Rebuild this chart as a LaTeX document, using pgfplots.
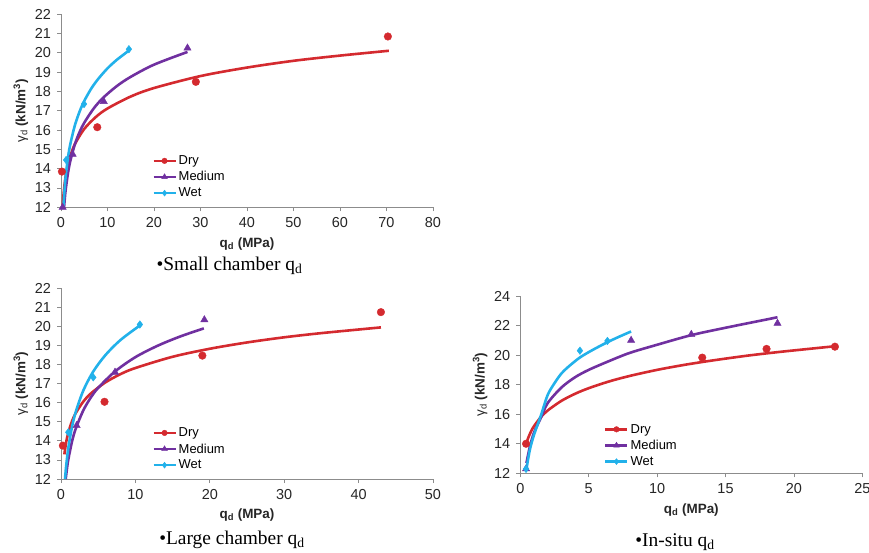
\documentclass[border=0pt]{standalone}
\usepackage{fontspec}
\setmainfont{Liberation Sans}
\newfontfamily\serif{Liberation Serif}
\usepackage{pgfplots}
\pgfplotsset{compat=1.18}

\definecolor{dry}{HTML}{D42A2F}
\definecolor{med}{HTML}{7030A0}
\definecolor{wet}{HTML}{22B1EA}
\definecolor{axgray}{HTML}{8C8C8C}

\pgfplotsset{
  excel/.style={
    scale only axis,
    axis lines=left,
    axis line style={-, draw=axgray, line width=0.8bp},
    tick align=outside,
    major tick length=4bp,
    tick style={draw=axgray, line width=0.8bp},
    tick label style={font=\fontsize{14.5}{16}\selectfont, text=black!85},
    xticklabel style={yshift=-2.5bp},
    yticklabel style={xshift=-2.5bp},
    /pgf/number format/assume math mode=true,
    label style={font=\fontsize{13.5}{15}\selectfont\bfseries, text=black!85},
    xlabel style={yshift=-3bp},
    xlabel={q\textsubscript{d} (MPa)},
    ylabel={{\mdseries γ\textsubscript{d}} (kN/m\textsuperscript{3})},
    clip=false,
    legend cell align=left,
    legend style={draw=none, fill=none, anchor=west, inner sep=0pt,
      font=\fontsize{13}{14}\selectfont, row sep=1.5bp,
      at={(0.245,0.157)}},
    legend image code/.code={\draw[##1, mark repeat=2, mark phase=2] plot coordinates {(0bp,0bp) (11bp,0bp) (22bp,0bp)};},
  },
  curve/.style={smooth, line width=2.6bp, no markers, forget plot},
  pts/.style={only marks, forget plot},
  drymk/.style={mark=*, mark size=3.8bp, mark options={draw=dry, fill=dry}},
  medmk/.style={mark=triangle*, mark size=4.2bp, mark options={draw=med, fill=med}},
  wetmk/.style={mark=diamond*, mark size=3.8bp, mark options={draw=wet, fill=wet}},
  drylg/.style={draw=dry, line width=2.4bp, mark=*, mark size=2.8bp, mark options={solid, line width=0.4bp, draw=dry, fill=dry}},
  medlg/.style={draw=med, line width=2.4bp, mark=triangle*, mark size=3.3bp, mark options={solid, line width=0.4bp, draw=med, fill=med}},
  wetlg/.style={draw=wet, line width=2.4bp, mark=diamond*, mark size=3bp, mark options={solid, line width=0.4bp, draw=wet, fill=wet}},
}

\begin{document}
\begin{tikzpicture}
\path[use as bounding box] (0,0) rectangle (869bp,553bp);

% small chamber
\begin{axis}[excel, at={(61bp,345.7bp)}, anchor=south west,
  width=372bp, height=193bp,
  xmin=0, xmax=80, ymin=12, ymax=22,
  xtick={0,10,...,80}, ytick={12,13,...,22}]
\addplot[curve, dry] coordinates {(0.35,12.0) (0.5,12.54) (0.75,13.16) (1,13.6) (1.5,14.22) (2,14.66) (3,15.28) (5,16.06) (7.5,16.68) (10,17.12) (15,17.74) (20,18.18) (30,18.8) (40,19.24) (50,19.59) (60,19.86) (70.5,20.11)};
\addplot[pts, drymk] coordinates {(0.2,13.85) (7.8,16.15) (29,18.5) (70.3,20.85)};
\addplot[curve, med] coordinates {(0.66,12.0) (0.8,12.41) (1,12.9) (1.5,13.77) (2,14.4) (3,15.28) (4,15.9) (5,16.38) (7,17.11) (9,17.66) (12,18.28) (15,18.76) (20,19.39) (27.2,20.05)};
\addplot[pts, medmk] coordinates {(0.36,12.0) (2.5,14.75) (9.2,17.48) (27.2,20.25)};
\addplot[curve, wet] coordinates {(0.52,12.0) (0.7,12.71) (1,13.58) (1.5,14.57) (2,15.27) (3,16.26) (4,16.96) (5,17.51) (6.5,18.15) (8,18.65) (10,19.2) (12,19.64) (14.6,20.12)};
\addplot[pts, wetmk] coordinates {(1.1,14.45) (4.95,17.35) (14.6,20.19)};
\addlegendimage{drylg}\addlegendentry{Dry}
\addlegendimage{medlg}\addlegendentry{Medium}
\addlegendimage{wetlg}\addlegendentry{Wet}
\end{axis}

% large chamber
\begin{axis}[excel, at={(61bp,74bp)}, anchor=south west,
  width=372bp, height=190.7bp,
  xmin=0, xmax=50, ymin=12, ymax=22,
  xtick={0,10,...,50}, ytick={12,13,...,22}]
\addplot[curve, dry] coordinates {(0.45,13.29) (0.7,13.94) (1,14.46) (1.5,15.05) (2,15.47) (3,16.06) (4,16.48) (5.9,17.05) (8,17.5) (10,17.82) (15,18.41) (20,18.83) (25,19.16) (30,19.43) (35,19.65) (43,19.95)};
\addplot[pts, drymk] coordinates {(0.25,13.75) (5.85,16.05) (19,18.47) (43,20.75)};
\addplot[curve, med] coordinates {(0.63,12.0) (0.8,12.54) (1,13.06) (1.5,14.0) (2,14.66) (3,15.6) (4,16.27) (5,16.78) (7.26,17.64) (10,18.39) (13,18.99) (16,19.47) (19.2,19.9)};
\addplot[pts, medmk] coordinates {(2.1,14.8) (7.26,17.6) (19.27,20.35)};
\addplot[curve, wet] coordinates {(0.54,12.0) (0.7,12.71) (1,13.67) (1.5,14.77) (2,15.54) (3,16.64) (4.34,17.64) (6,18.51) (8,19.29) (10.6,20.05)};
\addplot[pts, wetmk] coordinates {(0.98,14.45) (4.34,17.33) (10.6,20.1)};
\addlegendimage{drylg}\addlegendentry{Dry}
\addlegendimage{medlg}\addlegendentry{Medium}
\addlegendimage{wetlg}\addlegendentry{Wet}
\end{axis}

% in situ
\begin{axis}[excel, at={(520.3bp,79.7bp)}, anchor=south west,
  width=342bp, height=177.3bp,
  xmin=0, xmax=25, ymin=12, ymax=24,
  xtick={0,5,...,25}, ytick={12,14,...,24}]
\addplot[curve, dry] coordinates {(0.42,13.96) (0.6,14.45) (0.8,14.86) (1,15.19) (1.5,15.8) (2,16.25) (3,16.9) (4,17.38) (5,17.76) (6.5,18.22) (8,18.59) (10,19.0) (12,19.34) (14,19.63) (16.5,19.95) (19,20.22) (23,20.6)};
\addplot[pts, drymk] coordinates {(0.42,14.0) (13.3,19.83) (18,20.42) (23,20.57)};
\addplot[curve, med] coordinates {(0.45,12.7) (0.7,13.8) (1,14.75) (1.5,15.75) (2,16.75) (3,17.8) (4,18.5) (5,19.0) (6.5,19.6) (8,20.15) (10,20.7) (12.5,21.35) (15,21.85) (18.8,22.56)};
\addplot[pts, medmk] coordinates {(0.42,12.3) (8.1,21.0) (12.5,21.4) (18.8,22.15)};
\addplot[curve, wet] coordinates {(0.45,12.3) (0.7,13.6) (1,14.6) (1.5,15.9) (2,17.3) (2.5,18.1) (3,18.75) (3.5,19.2) (4.3,19.8) (5,20.2) (6,20.7) (7,21.15) (8.1,21.6)};
\addplot[pts, wetmk] coordinates {(0.42,12.3) (4.36,20.3) (6.37,20.96)};
\addlegendimage{drylg}\addlegendentry{Dry}
\addlegendimage{medlg}\addlegendentry{Medium}
\addlegendimage{wetlg}\addlegendentry{Wet}
\end{axis}

\node[font=\serif\fontsize{19.5}{22}\selectfont] at (229.5bp,287bp) {\textbullet Small chamber q\textsubscript{d}};
\node[font=\serif\fontsize{19.5}{22}\selectfont] at (232bp,13bp) {\textbullet Large chamber q\textsubscript{d}};
\node[font=\serif\fontsize{19.5}{22}\selectfont] at (675bp,11.3bp) {\textbullet In-situ q\textsubscript{d}};
\end{tikzpicture}
\end{document}
